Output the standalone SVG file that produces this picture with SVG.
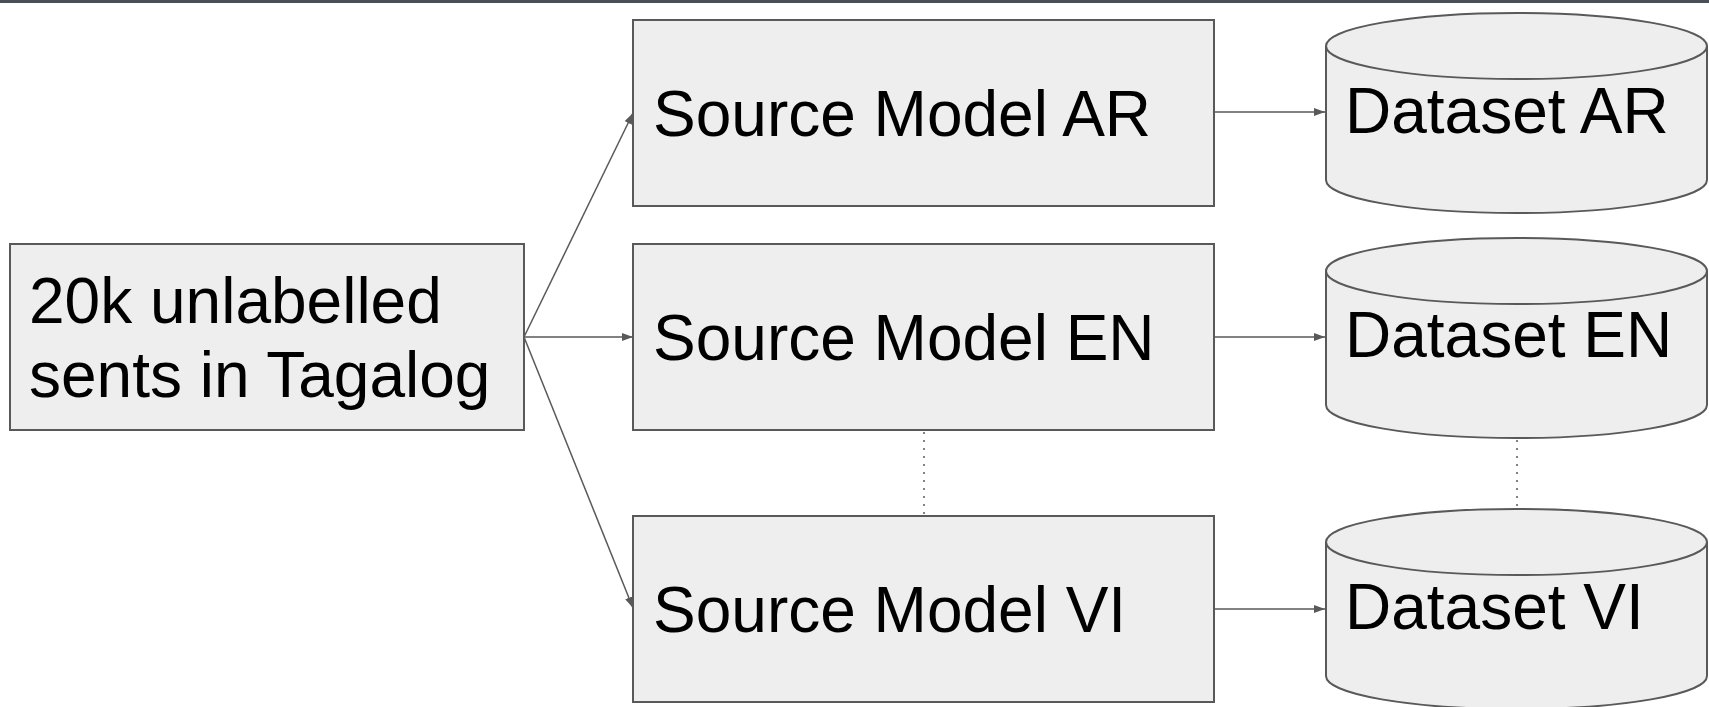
<svg xmlns="http://www.w3.org/2000/svg" width="1709" height="707" viewBox="0 0 1709 707">
  <style>
    .box { fill: #eeeeee; stroke: #595959; stroke-width: 2; }
    .lbl { font-family: "Liberation Sans", Arial, sans-serif; font-size: 64px; fill: #000000; }
    .link { stroke: #595959; stroke-width: 1.5; fill: none; }
    .dot { stroke: #595959; stroke-width: 1.5; stroke-dasharray: 2 6; fill: none; }
  </style>
  <defs>
    <marker id="arrow" viewBox="0 0 11 8" refX="11" refY="4" markerWidth="11" markerHeight="8" markerUnits="userSpaceOnUse" orient="auto">
      <path d="M0,0 L11,4 L0,8 Z" fill="#595959"/>
    </marker>
  </defs>

  <rect x="0" y="0" width="1709" height="707" fill="#ffffff"/>
  <rect x="0" y="0" width="1709" height="3" fill="#4a4f57"/>

  <g id="connectors">
    <line class="link" x1="524" y1="337" x2="633" y2="113" marker-end="url(#arrow)"/>
    <line class="link" x1="524" y1="337" x2="633" y2="337" marker-end="url(#arrow)"/>
    <line class="link" x1="524" y1="337" x2="633" y2="608" marker-end="url(#arrow)"/>
    <line class="link" x1="1214" y1="112" x2="1325" y2="112" marker-end="url(#arrow)"/>
    <line class="link" x1="1214" y1="337" x2="1325" y2="337" marker-end="url(#arrow)"/>
    <line class="link" x1="1214" y1="609" x2="1325" y2="609" marker-end="url(#arrow)"/>
    <line class="dot" x1="924" y1="432" x2="924" y2="514"/>
    <line class="dot" x1="1517" y1="440" x2="1517" y2="507"/>
  </g>

  <g id="input">
    <rect class="box" x="10" y="244" width="514" height="186"/>
    <text class="lbl" x="29" y="323">20k unlabelled</text>
    <text class="lbl" x="29" y="397">sents in Tagalog</text>
  </g>

  <g id="model-ar">
    <rect class="box" x="633" y="20" width="581" height="186"/>
    <text class="lbl" x="653" y="136">Source Model AR</text>
  </g>
  <g id="model-en">
    <rect class="box" x="633" y="244" width="581" height="186"/>
    <text class="lbl" x="653" y="360">Source Model EN</text>
  </g>
  <g id="model-vi">
    <rect class="box" x="633" y="516" width="581" height="186"/>
    <text class="lbl" x="653" y="632">Source Model VI</text>
  </g>

  <g id="dataset-ar">
    <path class="box" d="M1326,46 A190,33 0 0 1 1707,46 L1707,180 A190,33 0 0 1 1326,180 Z"/>
    <path class="box" d="M1326,46 A190,33 0 0 0 1707,46" fill="none"/>
    <text class="lbl" x="1345" y="133">Dataset AR</text>
  </g>
  <g id="dataset-en">
    <path class="box" d="M1326,271 A190,33 0 0 1 1707,271 L1707,405 A190,33 0 0 1 1326,405 Z"/>
    <path class="box" d="M1326,271 A190,33 0 0 0 1707,271" fill="none"/>
    <text class="lbl" x="1345" y="357">Dataset EN</text>
  </g>
  <g id="dataset-vi">
    <path class="box" d="M1326,542 A190,33 0 0 1 1707,542 L1707,676 A190,33 0 0 1 1326,676 Z"/>
    <path class="box" d="M1326,542 A190,33 0 0 0 1707,542" fill="none"/>
    <text class="lbl" x="1345" y="629">Dataset VI</text>
  </g>
</svg>
